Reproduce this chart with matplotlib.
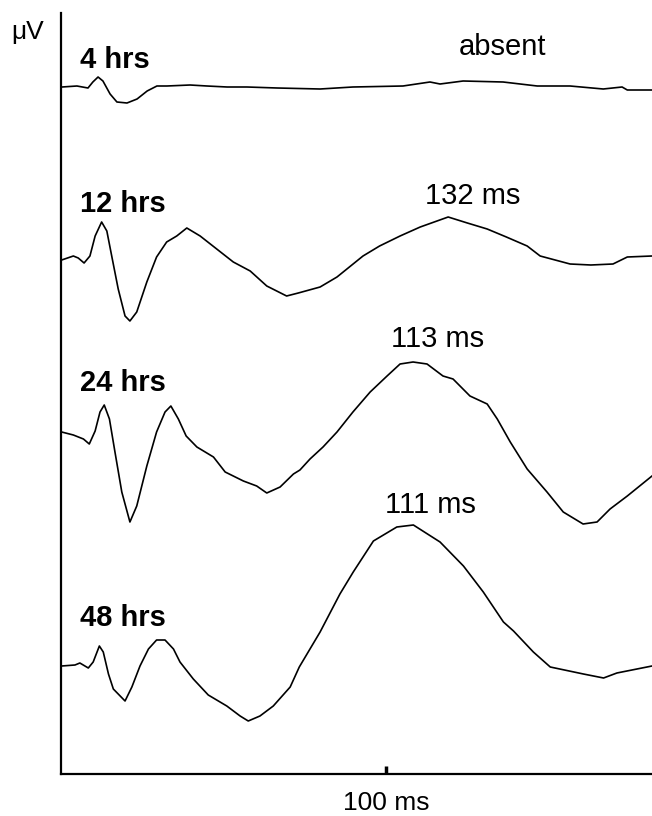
import numpy as np
import matplotlib
matplotlib.use("Agg")
import matplotlib.pyplot as plt

# time (ms) and amplitude (arbitrary uV, relative to each trace baseline)
t_4h = [0.3, 4.9, 8.3, 9.8, 11.4, 12.9, 15.1, 17.2, 20.3, 23.4, 26.5, 29.5, 32.6, 39.7,
        44.9, 51.1, 57.2, 66.5, 79.7, 89.8, 105.2, 113.5, 116.6, 123.7, 136.0, 146.5,
        156.6, 166.8, 172.6, 174.2, 181.8]
v_4h = [0, 0.1, -0.1, 0.5, 1.0, 0.6, -0.7, -1.5, -1.6, -1.2, -0.4, 0.1, 0.1, 0.2,
        0.1, 0, 0, -0.1, -0.2, 0, 0.1, 0.5, 0.3, 0.6, 0.5, 0.1,
        0.1, -0.2, 0, -0.3, -0.3]

t_12h = [0.2, 3.8, 5.3, 7.1, 8.9, 10.5, 12.5, 14.1, 15.6, 17.6, 19.7, 21.2, 23.3, 26.4,
         29.4, 32.5, 35.6, 38.7, 42.8, 47.9, 53.0, 58.2, 63.3, 69.4, 73.0, 79.7, 84.9,
         92.9, 98.0, 104.3, 110.5, 119.1, 125.0, 131.1, 137.0, 143.4, 147.4, 156.6,
         163.0, 169.8, 174.2, 181.8]
v_12h = [-0.1, 0.3, 0.1, -0.4, 0.3, 2.3, 3.7, 2.8, 0.3, -3.0, -5.7, -6.2, -5.3, -2.3,
         0.2, 1.7, 2.3, 3.1, 2.3, 1.0, -0.3, -1.2, -2.7, -3.7, -3.4, -2.8, -1.8,
         0.3, 1.3, 2.3, 3.2, 4.2, 3.6, 3.0, 2.2, 1.3, 0.3, -0.5,
         -0.6, -0.5, 0.2, 0.3]

t_24h = [0.2, 3.8, 6.9, 8.7, 10.5, 12.0, 13.3, 14.9, 16.6, 18.7, 21.2, 23.3, 26.4, 29.4,
         32.0, 33.8, 36.1, 38.5, 41.8, 46.9, 50.5, 56.1, 60.2, 63.3, 67.4, 71.5, 73.5,
         76.6, 80.6, 84.9, 89.8, 95.1, 100.3, 104.3, 108.3, 112.6, 117.5, 120.6, 125.8,
         131.1, 134.2, 138.2, 143.4, 149.5, 154.5, 160.6, 164.9, 168.9, 174.2, 181.8]
v_24h = [0.0, -0.3, -0.7, -1.2, 0.1, 2.0, 2.7, 1.3, -2.0, -6.0, -9.0, -7.4, -3.4, 0.0,
         2.0, 2.6, 1.3, -0.4, -1.5, -2.5, -4.0, -4.9, -5.4, -6.1, -5.5, -4.2, -3.8,
         -2.7, -1.5, 0, 2.0, 4.0, 5.6, 6.8, 7.0, 6.8, 5.6, 5.3, 3.6,
         2.8, 1.3, -1.0, -3.7, -6.0, -8.0, -9.2, -9.0, -7.7, -6.4, -4.4]

t_48h = [0.2, 4.3, 5.8, 8.4, 9.9, 11.8, 13.0, 14.6, 16.1, 19.7, 21.8, 24.3, 26.9, 29.4,
         32.0, 34.6, 36.6, 40.7, 45.3, 51.0, 55.1, 57.6, 61.2, 65.3, 70.5, 73.3, 79.7,
         85.8, 89.9, 96.1, 103.3, 108.4, 116.6, 123.8, 129.9, 136.1, 139.2, 145.3, 150.5,
         160.7, 166.9, 171.0, 181.8]
v_48h = [-0.1, 0.0, 0.2, -0.3, 0.3, 1.9, 1.3, -0.9, -2.4, -3.6, -2.2, -0.1, 1.6, 2.5,
         2.5, 1.6, 0.3, -1.4, -3.0, -4.1, -5.1, -5.6, -5.1, -4.1, -2.2, -0.2, 3.3,
         7.1, 9.3, 12.4, 13.8, 14.0, 12.3, 9.9, 7.3, 4.3, 3.4, 1.3, -0.2,
         -0.9, -1.3, -0.8, -0.1]

labels = ['4 hrs', '12 hrs', '24 hrs', '48 hrs']
offsets = [68.7, 51.5, 34.2, 10.9]
label_y = [71.4, 57.0, 39.1, 15.6]
peak_text = ['absent', '132 ms', '113 ms', '111 ms']
peak_x = [135.7, 126.5, 115.7, 113.5]
peak_y = [72.7, 57.8, 43.5, 26.9]

fig = plt.figure(figsize=(6.52, 8.16), dpi=100)
ax = fig.add_axes([61 / 652, 42 / 816, 591 / 652, 761 / 816])

traces = [(t_4h, v_4h), (t_12h, v_12h), (t_24h, v_24h), (t_48h, v_48h)]
for (t, v), off in zip(traces, offsets):
    ax.plot(t, np.array(v) + off, color='black', lw=1.2, solid_joinstyle='round')

for lab, ly in zip(labels, label_y):
    ax.text(5.8, ly, lab, ha='left', va='center', fontsize=21, fontweight='bold',
            family='Liberation Sans')
for txt, px, py in zip(peak_text, peak_x, peak_y):
    ax.text(px, py, txt, ha='center', va='center', fontsize=21, family='Liberation Sans')

ax.set_xlim(0, 181.8)
ax.set_ylim(0, 76.1)
ax.spines['top'].set_visible(False)
ax.spines['right'].set_visible(False)
ax.spines['left'].set_linewidth(1.6)
ax.spines['bottom'].set_linewidth(1.6)
ax.set_yticks([])
ax.set_xticks([100])
ax.set_xticklabels(['100 ms'], fontsize=19, family='Liberation Sans')
ax.tick_params(axis='x', direction='in', length=6, width=2.5, pad=12)

fig.text(28 / 652, 1 - 32 / 816, 'μV', ha='center', va='center', fontsize=19,
         family='Liberation Sans')

fig.savefig('out.png', dpi=100)
